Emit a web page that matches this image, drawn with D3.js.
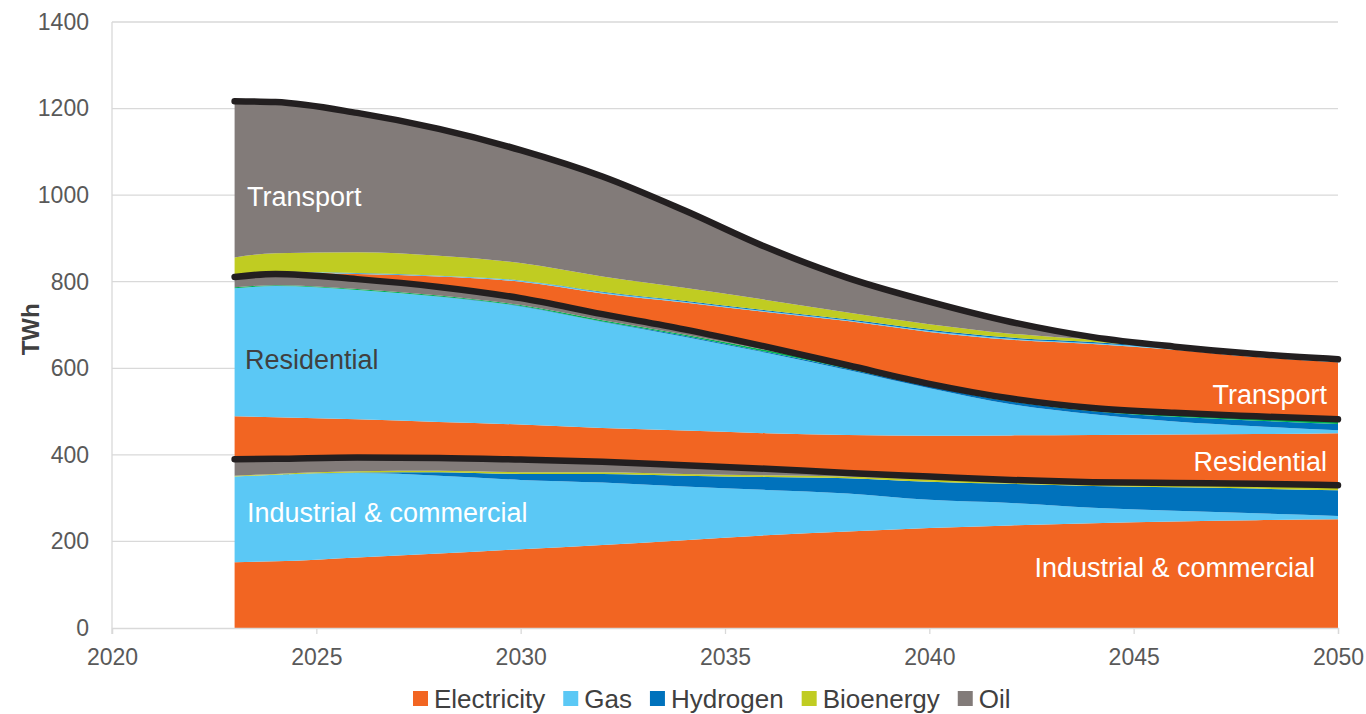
<!DOCTYPE html>
<html><head><meta charset="utf-8">
<script src="https://cdn.jsdelivr.net/npm/d3@7"></script>
<style>
body{margin:0;background:#fff;}
svg{display:block;font-family:"Liberation Sans",Arial,sans-serif;}
</style>
</head><body>
<svg id="c" width="1366" height="714"></svg>
<script>
// ---------------- DATA ----------------
const years = [2023,2024,2026,2028,2030,2032,2034,2036,2038,2040,2042,2044,2046,2048,2050];

// Industrial & commercial (TWh)
const indElectricity = [152,154,163,172,182,192,203,214,223,231,237,242,246,249,251];
const indGas         = [198,200,195,180,160,144,124,105, 88, 65, 52, 36, 25, 16,  8];
const indHydrogen    = [  0,  0,  1,  8, 14, 20, 25, 30, 35, 42, 44, 50, 54, 57, 59];
const indBioenergy   = [  2,  2,  3,  3,  4,  4,  4,  4,  4,  5,  5,  6,  7,  8,  9];
const indOil         = [ 38, 35, 32, 30, 29, 24, 20, 15,  8,  7,  4,  3,  3,  3,  3];

// Residential (TWh)
const resElectricity = [ 99, 96, 88, 83, 81, 78, 80, 82, 88, 94,103,109,112,115,120];
const resGas         = [296,303,299,289,273,245,217,186,150,110, 72, 48, 30, 18,  7];
const resHydrogen    = [  0,  0,  0,  1,  1,  1,  2,  2,  3,  4,  6,  7, 11, 13, 14];
const resOther       = [  2,  2,  2,  2,  2,  3,  3,  4,  4,  4,  5,  6,  8,  9, 10];
const resOil         = [ 24, 26, 23, 20, 16, 14, 12,  8,  4,  2,  2,  1,  1,  1,  1];

// Transport (TWh)
const trElectricity  = [  2,  4, 12, 24, 38, 48, 62, 80,102,120,136,148,146,137,132];
const trGas          = [  1,  1,  1,  1,  2,  2,  2,  2,  2,  2,  2,  2,  2,  2,  2];
const trHydrogen     = [  0,  0,  1,  1,  1,  2,  2,  2,  2,  3,  3,  3,  3,  3,  3];
const trBioenergy    = [ 42, 43, 48, 46, 40, 35, 30, 24, 16, 13,  9,  5,  2,  2,  2];
const trOil          = [361,349,322,293,261,231,179,122, 80, 52, 27,  6,  0,  0,  0];

const yTicks = [0,200,400,600,800,1000,1200,1400];
const xTicks = [2020,2025,2030,2035,2040,2045,2050];
const legendItems = ["Electricity","Gas","Hydrogen","Bioenergy","Oil"];
const fuelColors = {Electricity:"#F26522",Gas:"#5BC8F5",Hydrogen:"#0072BC",Bioenergy:"#C0CC22",Oil:"#827B79",Other:"#00B050"};

// series in stacking order
const seriesDefs = [
  {key:"ind_Electricity",fuel:"Electricity",vals:indElectricity},
  {key:"ind_Gas",fuel:"Gas",vals:indGas},
  {key:"ind_Hydrogen",fuel:"Hydrogen",vals:indHydrogen},
  {key:"ind_Bioenergy",fuel:"Bioenergy",vals:indBioenergy},
  {key:"ind_Oil",fuel:"Oil",vals:indOil},
  {key:"res_Electricity",fuel:"Electricity",vals:resElectricity},
  {key:"res_Gas",fuel:"Gas",vals:resGas},
  {key:"res_Hydrogen",fuel:"Hydrogen",vals:resHydrogen},
  {key:"res_Other",fuel:"Other",vals:resOther},
  {key:"res_Oil",fuel:"Oil",vals:resOil},
  {key:"tr_Electricity",fuel:"Electricity",vals:trElectricity},
  {key:"tr_Gas",fuel:"Gas",vals:trGas},
  {key:"tr_Hydrogen",fuel:"Hydrogen",vals:trHydrogen},
  {key:"tr_Bioenergy",fuel:"Bioenergy",vals:trBioenergy},
  {key:"tr_Oil",fuel:"Oil",vals:trOil}
];
const sectorEnds = ["ind_Oil","res_Oil","tr_Oil"];

// ---------------- CHART ----------------
const svg = d3.select("#c");
const x = d3.scaleLinear().domain([2020,2050]).range([112,1338]);
const y = d3.scaleLinear().domain([0,1400]).range([628,22]);

const table = years.map((yr,i)=>{
  const o={year:yr};
  seriesDefs.forEach(s=>o[s.key]=s.vals[i]);
  return o;
});
const stack = d3.stack().keys(seriesDefs.map(s=>s.key));
const stacked = stack(table);

// gridlines
svg.append("g").selectAll("line").data(yTicks.filter(d=>d>0)).join("line")
  .attr("x1",x(2020)).attr("x2",x(2050))
  .attr("y1",d=>y(d)).attr("y2",d=>y(d))
  .attr("stroke","#d9d9d9").attr("stroke-width",1.3);

// areas
const curve = d3.curveMonotoneX;
const area = d3.area().curve(curve).x(d=>x(d.data.year)).y0(d=>y(d[0])).y1(d=>y(d[1]));
svg.append("g").selectAll("path").data(stacked).join("path")
  .attr("d",area)
  .attr("fill",(d,i)=>fuelColors[seriesDefs[i].fuel]);

// sector total lines
const line = d3.line().curve(curve).x(d=>x(d.data.year)).y(d=>y(d[1]));
svg.append("g").selectAll("path").data(stacked.filter(s=>sectorEnds.includes(s.key))).join("path")
  .attr("d",line).attr("fill","none")
  .attr("stroke","#231f20").attr("stroke-width",6.5)
  .attr("stroke-linecap","round").attr("stroke-linejoin","round");

const fontFam = "Liberation Sans, Arial, sans-serif";
// axes
const yAxis = d3.axisLeft(y).tickValues(yTicks).tickSize(0).tickPadding(23).tickFormat(d3.format("d"));
const gy = svg.append("g").attr("transform",`translate(${x(2020)},0)`).call(yAxis);
gy.select(".domain").remove();
gy.selectAll("text").attr("font-size",23).attr("fill","#595959").attr("font-family",fontFam);
svg.append("line").attr("x1",x(2020)).attr("x2",x(2020)).attr("y1",y(1400)).attr("y2",y(0)+6)
  .attr("stroke","#d9d9d9").attr("stroke-width",1.3);

const xAxis = d3.axisBottom(x).tickValues(xTicks).tickSize(6).tickPadding(15).tickFormat(d3.format("d"));
const gx = svg.append("g").attr("transform",`translate(0,${y(0)})`).call(xAxis);
gx.select(".domain").attr("stroke","#d9d9d9").attr("stroke-width",1.3);
gx.selectAll(".tick line").attr("stroke","#d9d9d9").attr("stroke-width",1.3);
gx.selectAll("text").attr("font-size",23).attr("fill","#595959").attr("font-family",fontFam);

// y title
svg.append("text").attr("transform",`translate(39,${y(690)}) rotate(-90)`)
  .attr("text-anchor","middle").attr("font-size",24).attr("font-weight","bold")
  .attr("fill","#404040").text("TWh");

// sector labels
const labels = [
  {t:"Transport",x:247,y:206,anchor:"start",c:"#ffffff"},
  {t:"Residential",x:245,y:369,anchor:"start",c:"#404040"},
  {t:"Industrial & commercial",x:247,y:522,anchor:"start",c:"#ffffff"},
  {t:"Transport",x:1327,y:404,anchor:"end",c:"#ffffff"},
  {t:"Residential",x:1327,y:471,anchor:"end",c:"#ffffff"},
  {t:"Industrial & commercial",x:1315,y:577,anchor:"end",c:"#ffffff"}
];
svg.append("g").selectAll("text").data(labels).join("text")
  .attr("x",d=>d.x).attr("y",d=>d.y).attr("text-anchor",d=>d.anchor)
  .attr("fill",d=>d.c).attr("font-size",27).text(d=>d.t);

// legend
const lg = svg.append("g").attr("font-size",26).attr("fill","#404040");
let lx = 413;
legendItems.forEach(name=>{
  const g = lg.append("g").attr("transform",`translate(${lx},0)`);
  g.append("rect").attr("x",0).attr("y",691).attr("width",15).attr("height",15).attr("fill",fuelColors[name]);
  const t = g.append("text").attr("x",21).attr("y",708).attr("fill","#404040").text(name);
  lx += 21 + t.node().getComputedTextLength() + 18;
});
</script>
</body></html>
